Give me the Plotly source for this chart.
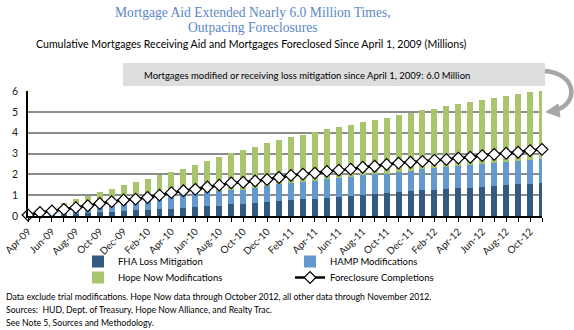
import plotly.graph_objects as go

months = [
    "Apr-09", "May-09", "Jun-09", "Jul-09", "Aug-09", "Sep-09", "Oct-09", "Nov-09", "Dec-09",
    "Jan-10", "Feb-10", "Mar-10", "Apr-10", "May-10", "Jun-10", "Jul-10", "Aug-10", "Sep-10",
    "Oct-10", "Nov-10", "Dec-10", "Jan-11", "Feb-11", "Mar-11", "Apr-11", "May-11", "Jun-11",
    "Jul-11", "Aug-11", "Sep-11", "Oct-11", "Nov-11", "Dec-11", "Jan-12", "Feb-12", "Mar-12",
    "Apr-12", "May-12", "Jun-12", "Jul-12", "Aug-12", "Sep-12", "Oct-12", "Nov-12",
]
# every other month is labelled on the axis
tick_labels = [m if i % 2 == 0 else "" for i, m in enumerate(months)]

# cumulative counts, millions (stacked segments)
fha_loss_mitigation = [
    0.00, 0.01, 0.03, 0.06, 0.10, 0.14, 0.19, 0.20, 0.25, 0.29, 0.30, 0.35, 0.35, 0.40, 0.43,
    0.48, 0.48, 0.57, 0.57, 0.64, 0.69, 0.70, 0.77, 0.81, 0.83, 0.86, 0.91, 0.96, 1.00, 1.05,
    1.10, 1.15, 1.20, 1.24, 1.24, 1.29, 1.34, 1.36, 1.39, 1.44, 1.47, 1.52, 1.55, 1.58,
]
hamp_modifications = [
    0.00, 0.02, 0.07, 0.14, 0.19, 0.23, 0.26, 0.36, 0.40, 0.46, 0.55, 0.57, 0.65, 0.68, 0.69,
    0.68, 0.71, 0.66, 0.70, 0.71, 0.75, 0.82, 0.80, 0.82, 0.86, 0.91, 0.91, 0.92, 0.95, 0.96,
    0.94, 0.96, 0.98, 1.01, 1.06, 1.05, 1.06, 1.09, 1.11, 1.10, 1.12, 1.12, 1.14, 1.17,
]
hope_now_modifications = [
    0.02, 0.09, 0.35, 0.42, 0.51, 0.60, 0.69, 0.72, 0.82, 0.87, 0.94, 1.07, 1.12, 1.20, 1.32,
    1.47, 1.63, 1.78, 1.90, 1.98, 2.05, 2.12, 2.20, 2.27, 2.33, 2.39, 2.44, 2.49, 2.55, 2.60,
    2.68, 2.72, 2.76, 2.82, 2.85, 2.92, 2.98, 3.02, 3.07, 3.12, 3.19, 3.22, 3.26, 3.27,
]
foreclosure_completions = [
    0.05, 0.17, 0.24, 0.32, 0.40, 0.49, 0.60, 0.69, 0.77, 0.81, 0.89, 1.00, 1.12, 1.21, 1.28,
    1.39, 1.48, 1.59, 1.62, 1.68, 1.75, 1.85, 1.95, 2.01, 2.06, 2.14, 2.20, 2.25, 2.34, 2.39,
    2.47, 2.54, 2.58, 2.62, 2.68, 2.71, 2.78, 2.82, 2.90, 2.96, 3.01, 3.06, 3.14, 3.20,
]

W, H = 574, 330
ML, MR, MT, MB = 28, 32, 91, 114
PW, PH = W - ML - MR, H - MT - MB


def px(x, y):
    """Pixel position -> paper coordinates."""
    return (x - ML) / PW, (H - MB - y) / PH


BODY = "Lato, 'Open Sans', sans-serif"
SERIF = "'Liberation Serif', 'DejaVu Serif', serif"

fig = go.Figure()
fig.add_bar(x=months, y=fha_loss_mitigation, name="FHA Loss Mitigation",
            marker=dict(color="#335A80", line=dict(width=0)), legend="legend")
fig.add_bar(x=months, y=hamp_modifications, name="HAMP Modifications",
            marker=dict(color="#6399CF", line=dict(width=0)), legend="legend")
fig.add_bar(x=months, y=hope_now_modifications, name="Hope Now Modifications",
            marker=dict(color="#A8C46C", line=dict(width=0)), legend="legend2")
fig.add_scatter(x=months, y=foreclosure_completions, name="Foreclosure Completions",
                mode="lines+markers", line=dict(color="black", width=2.5),
                marker=dict(symbol="diamond", size=9, color="white",
                            line=dict(color="black", width=1.2)),
                cliponaxis=False, legend="legend2")

shapes = []
# callout box
x0, y0 = px(123, 63)
x1, y1 = px(545, 86)
shapes.append(dict(type="rect", xref="paper", yref="paper", x0=x0, y0=y1, x1=x1, y1=y0,
                   fillcolor="#DEDEDE", line=dict(width=0), layer="above"))


def pp(x, y):
    a, b = px(x, y)
    return f"{a:.4f},{b:.4f}"


# curved arrow from the callout back into the chart
shapes.append(dict(type="path", xref="paper", yref="paper",
                   path=f"M {pp(545, 71)} C {pp(578, 74)} {pp(578, 104)} {pp(556, 110)}",
                   line=dict(color="#A6A6A6", width=4.5)))
shapes.append(dict(type="path", xref="paper", yref="paper",
                   path=f"M {pp(546, 112)} L {pp(558, 104)} L {pp(560, 117)} Z",
                   fillcolor="#A6A6A6", line=dict(color="#A6A6A6", width=1)))

annotations = []


def text(x, y, s, size, color="black", family=BODY, xanchor="center"):
    a, b = px(x, y)
    annotations.append(dict(xref="paper", yref="paper", x=a, y=b, text=s, showarrow=False,
                            xanchor=xanchor, yanchor="middle", borderpad=0,
                            font=dict(size=size, color=color, family=family)))


text(253, 12, "Mortgage Aid Extended Nearly 6.0 Million Times,", 13.6, "#5B87C5", SERIF)
text(253, 27.5, "Outpacing Foreclosures", 13.6, "#5B87C5", SERIF)
text(251, 44, "Cumulative Mortgages Receiving Aid and Mortgages Foreclosed Since April 1, 2009 (Millions)",
     10.6)
text(307, 75, "Mortgages modified or receiving loss mitigation since April 1, 2009: 6.0 Million", 9.5)
text(5, 296, "Data exclude trial modifications. Hope Now data through October 2012, all other data through November 2012.",
     8.7, xanchor="left")
text(5, 309, "Sources:  HUD, Dept. of Treasury, Hope Now Alliance, and Realty Trac.", 8.7, xanchor="left")
text(5, 322, "See Note 5, Sources and Methodology.", 8.7, xanchor="left")

lx, ly1 = px(78, 247)
_, ly2 = px(78, 263)
legend_common = dict(orientation="h", xanchor="left", yanchor="top", entrywidth=167,
                     bgcolor="rgba(0,0,0,0)", font=dict(size=9.5, family=BODY, color="black"),
                     traceorder="normal")

fig.update_layout(
    width=W, height=H,
    margin=dict(l=ML, r=MR, t=MT, b=MB, autoexpand=False),
    paper_bgcolor="white", plot_bgcolor="white",
    barmode="stack", bargap=0.5,
    font=dict(family=BODY, size=10, color="black"),
    showlegend=True,
    legend=dict(x=lx, y=ly1, **legend_common),
    legend2=dict(x=lx, y=ly2, **legend_common),
    shapes=shapes,
    annotations=annotations,
    xaxis=dict(type="category", range=[0, len(months) - 1], tickmode="array",
               tickvals=months, ticktext=tick_labels, tickangle=-45, automargin=False,
               ticks="outside", ticklen=4, tickcolor="black", tickwidth=1,
               showline=True, linecolor="black", linewidth=1.5, showgrid=False,
               tickfont=dict(size=10, color="#222")),
    yaxis=dict(range=[0, 6], dtick=1, showgrid=True, gridcolor="#8C8C8C", gridwidth=1.5,
               showline=True, linecolor="black", linewidth=1.5, zeroline=False,
               automargin=False, ticks="", ticklabelstandoff=6,
               tickfont=dict(size=10.5, color="#222")),
)

fig.write_html("out.html")
